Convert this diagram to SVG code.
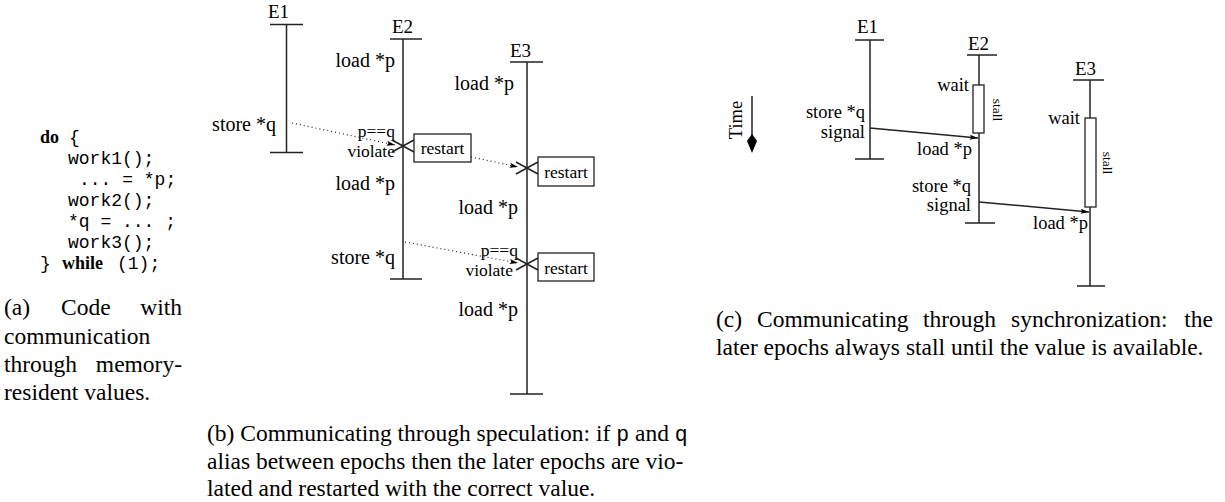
<svg xmlns="http://www.w3.org/2000/svg" width="1225" height="502" viewBox="0 0 1225 502">
<style>
.t{font-family:"Liberation Serif","Times New Roman",serif;fill:#000}
.m{font-family:"Liberation Mono","Courier New",monospace;fill:#000}
.b{font-weight:bold}
.code{font-size:18px}
.l{font-size:20px}
.s{font-size:17.5px}
.c{font-size:18.5px}
.e{font-size:19px}
.st{font-size:13.5px}
.cap{font-size:23.5px}
.capm{font-size:21.5px}
.ln{stroke:#222;stroke-width:1.5;fill:none}
.dot{stroke:#222;stroke-width:1.2;stroke-dasharray:1 3;fill:none}
.box{fill:#fff;stroke:#222;stroke-width:1.3}
.end{text-anchor:end}
.mid{text-anchor:middle}
</style>
<defs>
<marker id="ah" viewBox="0 0 10 6" refX="10" refY="3" markerWidth="9" markerHeight="5" markerUnits="userSpaceOnUse" orient="auto">
<path d="M0,0 L10,3 L0,6 L2,3 z" fill="#000"/>
</marker>
</defs>

<!-- (a) code -->
<g id="code">
<text class="t b code" x="40" y="143">do</text><text class="m code" x="69" y="143">{</text>
<text class="m code" x="68" y="164">work1();</text>
<text class="m code" x="79" y="185">... = *p;</text>
<text class="m code" x="68" y="206">work2();</text>
<text class="m code" x="68" y="227">*q = ... ;</text>
<text class="m code" x="68" y="248">work3();</text>
<text class="m code" x="40" y="269">}</text><text class="t b code" x="62" y="269">while</text><text class="m code" x="117" y="269">(1);</text>
</g>
<g id="caption-a" class="t cap">
<text x="4" y="315">(a)</text><text x="61" y="315">Code</text><text class="end" x="182" y="315">with</text>
<text x="4" y="344">communication</text>
<text x="4" y="372">through</text><text class="end" x="182" y="372">memory-</text>
<text x="4" y="400">resident values.</text>
</g>

<!-- (b) -->
<g id="b-E1">
<text class="t e" x="268" y="18">E1</text>
<line class="ln" x1="270" y1="24.5" x2="303" y2="24.5"/>
<line class="ln" x1="286.5" y1="24.5" x2="286.5" y2="152.5"/>
<line class="ln" x1="270" y1="152.5" x2="303" y2="152.5"/>
<text class="t l end" x="276" y="131">store *q</text>
</g>
<g id="b-E2">
<text class="t e" x="392" y="33">E2</text>
<line class="ln" x1="390" y1="39" x2="422" y2="39"/>
<line class="ln" x1="403" y1="39" x2="403" y2="279"/>
<line class="ln" x1="390" y1="279" x2="422" y2="279"/>
<text class="t l end" x="395" y="67">load *p</text>
<text class="t s end" x="395" y="137">p==q</text>
<text class="t s end" x="395" y="157">violate</text>
<text class="t l end" x="395" y="190">load *p</text>
<text class="t l end" x="395" y="264">store *q</text>
<path class="ln" d="M392,140 L414,152 M392,152 L414,140"/>
<rect class="box" x="414" y="134" width="57" height="28"/>
<text class="t s mid" x="442.5" y="154">restart</text>
</g>
<g id="b-E3">
<text class="t e" x="510" y="57">E3</text>
<line class="ln" x1="510" y1="62" x2="543" y2="62"/>
<line class="ln" x1="527" y1="62" x2="527" y2="394"/>
<line class="ln" x1="510" y1="394" x2="543" y2="394"/>
<text class="t l end" x="514" y="90">load *p</text>
<path class="ln" d="M516,162 L538,174 M516,174 L538,162"/>
<rect class="box" x="538" y="157" width="56" height="29"/>
<text class="t s mid" x="566" y="178">restart</text>
<text class="t l end" x="518" y="214">load *p</text>
<text class="t s end" x="518" y="256">p==q</text>
<text class="t s end" x="513" y="276">violate</text>
<path class="ln" d="M516,258 L538,270 M516,270 L538,258"/>
<rect class="box" x="538" y="253" width="56" height="28"/>
<text class="t s mid" x="566" y="274">restart</text>
<text class="t l end" x="518" y="316">load *p</text>
</g>
<g id="b-connectors">
<line class="dot" x1="292" y1="123" x2="395" y2="145" marker-end="url(#ah)"/>
<line class="dot" x1="471" y1="157" x2="518" y2="167" marker-end="url(#ah)"/>
<line class="dot" x1="405" y1="242" x2="518" y2="263" marker-end="url(#ah)"/>
</g>
<g id="caption-b" class="t cap">
<text x="207" y="441">(b) Communicating through speculation: if <tspan class="m capm">p</tspan> and <tspan class="m capm">q</tspan></text>
<text x="207" y="468.5">alias between epochs then the later epochs are vio-</text>
<text x="207" y="496">lated and restarted with the correct value.</text>
</g>

<!-- (c) -->
<g id="c-time">
<text class="t c mid" transform="translate(742,120) rotate(-90)">Time</text>
<line class="ln" x1="752" y1="96" x2="752" y2="138"/>
<path d="M752,153 L747,141 L752,134 L757,141 Z" fill="#000"/>
</g>
<g id="c-E1">
<text class="t e" x="857" y="33">E1</text>
<line class="ln" x1="855" y1="40" x2="884" y2="40"/>
<line class="ln" x1="870" y1="40" x2="870" y2="159"/>
<line class="ln" x1="855" y1="159" x2="884" y2="159"/>
<text class="t c end" x="865" y="118">store *q</text>
<text class="t c end" x="865" y="138">signal</text>
</g>
<g id="c-E2">
<text class="t e" x="968" y="50">E2</text>
<line class="ln" x1="967" y1="55" x2="997" y2="55"/>
<line class="ln" x1="979" y1="55" x2="979" y2="223"/>
<line class="ln" x1="965" y1="223" x2="995" y2="223"/>
<text class="t c end" x="969" y="91">wait</text>
<rect class="box" x="973" y="85" width="11" height="48"/>
<text class="t st mid" transform="translate(993,110) rotate(90)">stall</text>
<text class="t c end" x="972" y="155">load *p</text>
<text class="t c end" x="971" y="192">store *q</text>
<text class="t c end" x="971" y="211">signal</text>
</g>
<g id="c-E3">
<text class="t e" x="1075" y="75">E3</text>
<line class="ln" x1="1073" y1="80" x2="1104" y2="80"/>
<line class="ln" x1="1090" y1="80" x2="1090" y2="286"/>
<line class="ln" x1="1077" y1="286" x2="1105" y2="286"/>
<text class="t c end" x="1080" y="124">wait</text>
<rect class="box" x="1085" y="118" width="11" height="89"/>
<text class="t st mid" transform="translate(1103,163) rotate(90)">stall</text>
<text class="t c end" x="1088" y="229">load *p</text>
</g>
<g id="c-connectors">
<line class="ln" x1="870" y1="128" x2="978" y2="138" marker-end="url(#ah)"/>
<line class="ln" x1="979" y1="202" x2="1089" y2="212" marker-end="url(#ah)"/>
</g>
<g id="caption-c" class="t cap">
<text y="327"><tspan x="716">(c)</tspan><tspan x="757">Communicating</tspan><tspan x="923">through</tspan><tspan x="1011">synchronization:</tspan></text>
<text class="end" x="1213" y="327">the</text>
<text x="716" y="355">later epochs always stall until the value is available.</text>
</g>
</svg>
